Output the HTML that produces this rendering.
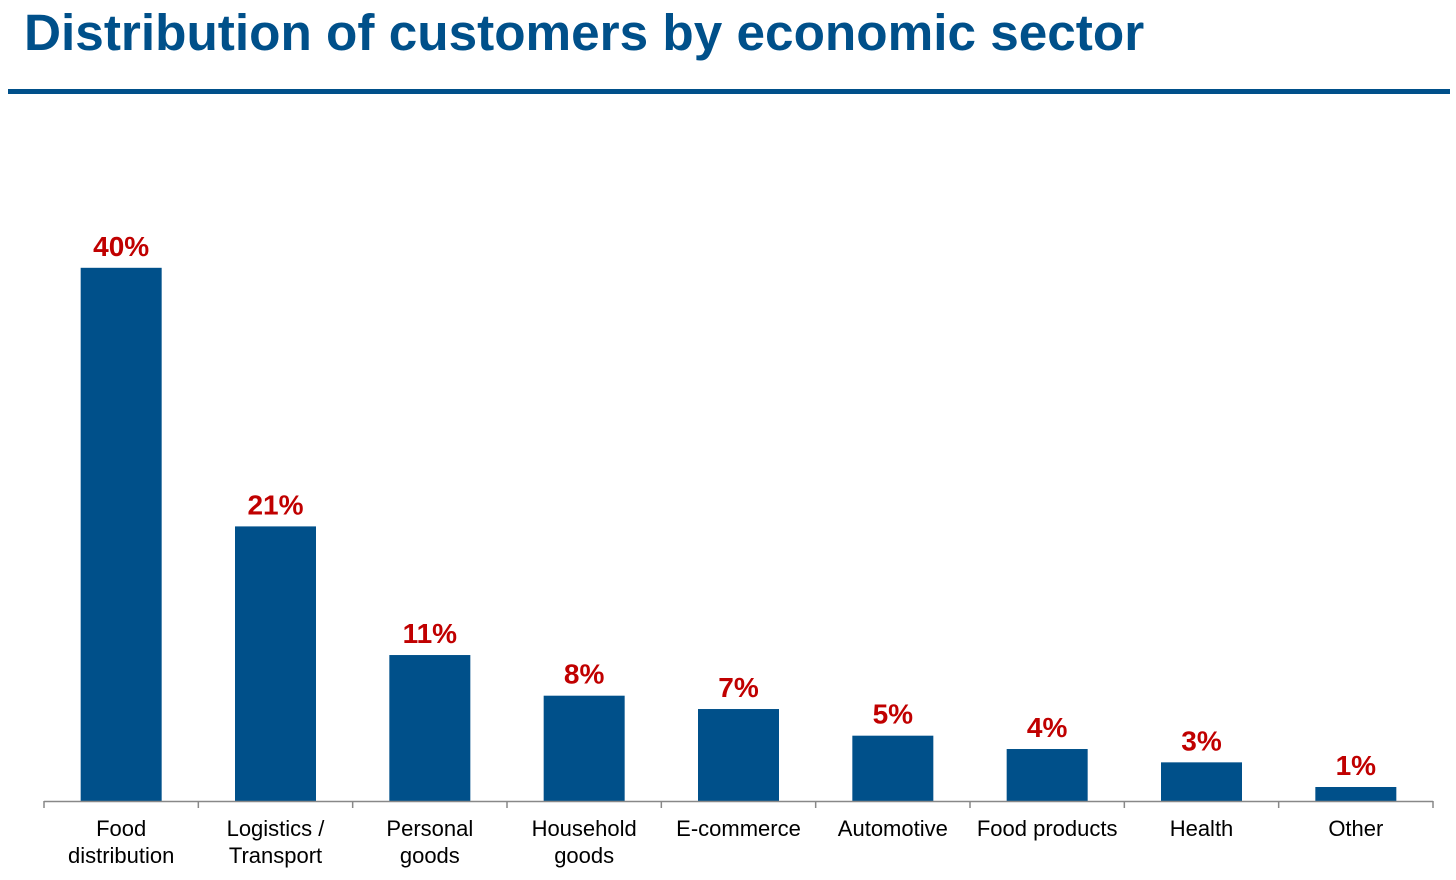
<!DOCTYPE html>
<html><head><meta charset="utf-8">
<style>
html,body{margin:0;padding:0;background:#fff;}
body{width:1456px;height:880px;overflow:hidden;position:relative;font-family:"Liberation Sans",Arial,sans-serif;}
#title{position:absolute;left:24px;top:3px;margin:0;font-size:51.3px;font-weight:bold;color:#00508A;white-space:nowrap;}
#rule{position:absolute;left:8px;top:89px;width:1442px;height:5px;background:#00508A;}
svg{position:absolute;left:0;top:0;}
</style></head>
<body>
<h1 id="title">Distribution of customers by economic sector</h1>
<div id="rule"></div>
<svg id="chart" width="1456" height="880"></svg>
<script>
const categories = [["Food","distribution"],["Logistics /","Transport"],["Personal","goods"],["Household","goods"],["E-commerce"],["Automotive"],["Food products"],["Health"],["Other"]];
const values = [40, 20.6, 10.95, 7.9, 6.9, 4.9, 3.9, 2.9, 1.05];
const valueLabels = ["40%","21%","11%","8%","7%","5%","4%","3%","1%"];

const NS = "http://www.w3.org/2000/svg";
const svg = document.getElementById('chart');
const x0 = 44, x1 = 1433, baseY = 801, pxPerUnit = 13.33;
const band = (x1 - x0) / categories.length;
const barW = 81;
function xCenter(i){ return x0 + band * (i + 0.5); }
function yPos(v){ return baseY - v * pxPerUnit; }
function mk(tag, attrs){ const e = document.createElementNS(NS, tag); for (const k in attrs) e.setAttribute(k, attrs[k]); svg.appendChild(e); return e; }

values.forEach((v, i) => {
  const r = mk('rect', {x: xCenter(i) - barW/2, y: yPos(v), width: barW, height: baseY - yPos(v), fill: '#00508A'});
  
  
  const t = mk('text', {x: xCenter(i), y: yPos(v) - 12, 'text-anchor': 'middle', 'font-size': 28, 'font-weight': 'bold', fill: '#C00000', 'font-family': 'Liberation Sans, sans-serif'});
  t.textContent = valueLabels[i];
  
  
  categories[i].forEach((line, j) => {
    const c = mk('text', {x: xCenter(i), y: 836 + j * 27, 'text-anchor': 'middle', 'font-size': 22, fill: '#000', 'font-family': 'Liberation Sans, sans-serif'});
    c.textContent = line;
    
    
  });
});
const axis = mk('line', {x1: x0, y1: baseY + 0.5, x2: x1, y2: baseY + 0.5, stroke: '#888', 'stroke-width': 1.5});


for (let i = 0; i <= categories.length; i++) {
  const tk = mk('line', {x1: x0 + band * i, y1: baseY, x2: x0 + band * i, y2: baseY + 7, stroke: '#888', 'stroke-width': 1.5});
  
  
}
</script>
</body></html>
